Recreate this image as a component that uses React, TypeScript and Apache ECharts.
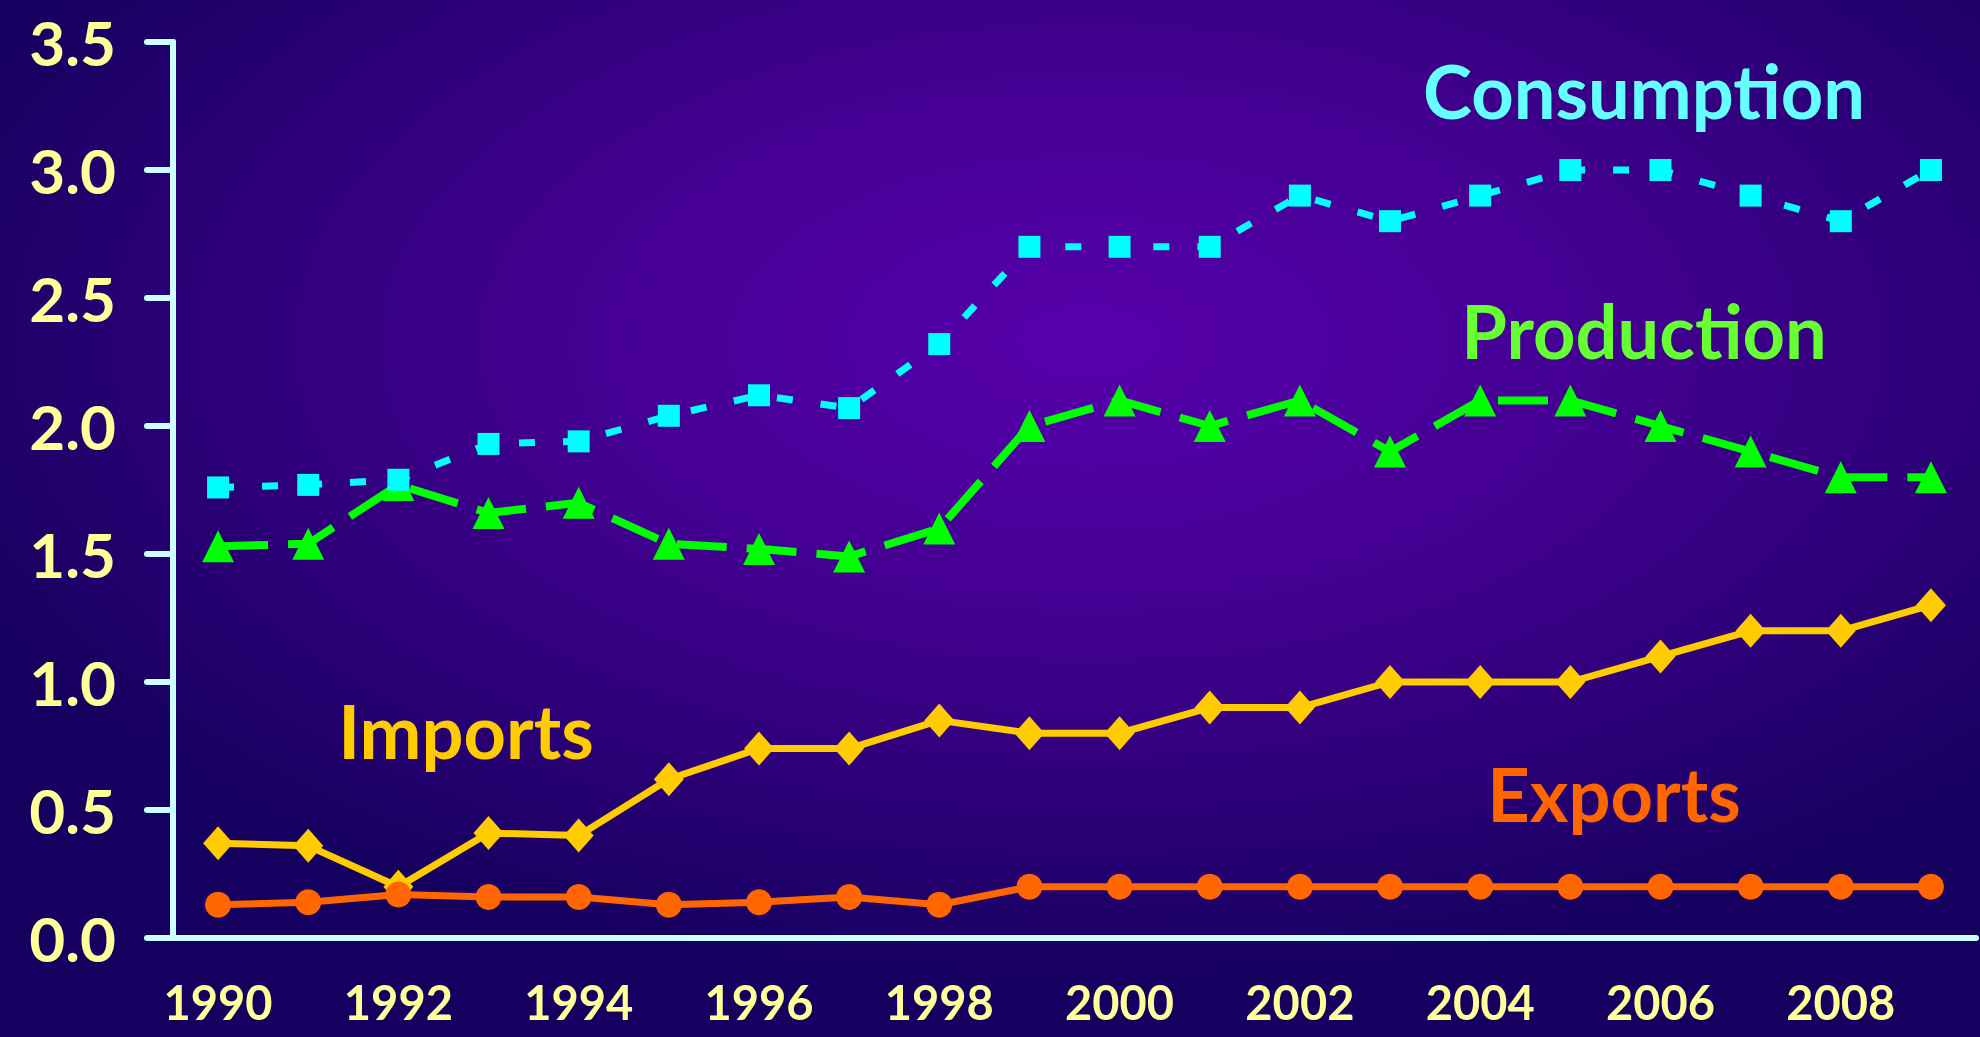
import React, { useEffect, useRef } from "react";
import * as echarts from "echarts";

const years = [
  "1990", "1991", "1992", "1993", "1994", "1995", "1996", "1997", "1998", "1999",
  "2000", "2001", "2002", "2003", "2004", "2005", "2006", "2007", "2008", "2009",
];
const consumption = [1.76, 1.77, 1.79, 1.93, 1.94, 2.04, 2.12, 2.07, 2.32, 2.7, 2.7, 2.7, 2.9, 2.8, 2.9, 3.0, 3.0, 2.9, 2.8, 3.0];
const production = [1.53, 1.54, 1.77, 1.66, 1.7, 1.54, 1.52, 1.49, 1.6, 2.0, 2.1, 2.0, 2.1, 1.9, 2.1, 2.1, 2.0, 1.9, 1.8, 1.8];
const imports = [0.37, 0.36, 0.2, 0.41, 0.4, 0.62, 0.74, 0.74, 0.85, 0.8, 0.8, 0.9, 0.9, 1.0, 1.0, 1.0, 1.1, 1.2, 1.2, 1.3];
const exports = [0.13, 0.14, 0.17, 0.16, 0.16, 0.13, 0.14, 0.16, 0.13, 0.2, 0.2, 0.2, 0.2, 0.2, 0.2, 0.2, 0.2, 0.2, 0.2, 0.2];

const seriesLabels = ["Consumption", "Production", "Imports", "Exports"];

export default function App() {
  const ref = useRef<HTMLDivElement>(null);
  useEffect(() => {
    const chart = echarts.init(ref.current!, null, { renderer: "svg" });
    const axisColor = "#CCFFFF";
    const labelColor = "#FFFF99";
    const font = "Lato";
    chart.setOption({
      animation: false,
      backgroundColor: {
        type: "radial",
        x: 0.55,
        y: 0.33,
        r: 0.62,
        colorStops: [
          { offset: 0, color: "#5700AD" },
          { offset: 0.45, color: "#42008F" },
          { offset: 1, color: "#16005F" },
        ],
      },
      grid: { left: 173, right: 4, top: 42, bottom: 99, containLabel: false },
      xAxis: {
        type: "category",
        data: years,
        boundaryGap: true,
        axisLine: { lineStyle: { color: axisColor, width: 6 } },
        axisTick: { interval: 0, length: 17, lineStyle: { color: axisColor, width: 5, cap: "round" } },
        axisLabel: {
          interval: 1,
          color: labelColor,
          fontFamily: font,
          fontWeight: "bold",
          fontSize: 47,
          lineHeight: 40,
          margin: 44,
        },
        splitLine: { show: false },
      },
      yAxis: {
        type: "value",
        min: 0,
        max: 3.5,
        interval: 0.5,
        axisLine: { show: true, lineStyle: { color: axisColor, width: 6 } },
        axisTick: { show: true, length: 26, lineStyle: { color: axisColor, width: 6, cap: "round" } },
        axisLabel: {
          color: labelColor,
          fontFamily: font,
          fontWeight: "bold",
          fontSize: 62,
          margin: 57,
          formatter: (v: number) => v.toFixed(1),
        },
        splitLine: { show: false },
      },
      series: [
        {
          name: seriesLabels[2],
          type: "line",
          data: imports,
          symbol: "diamond",
          symbolSize: [30, 34],
          lineStyle: { color: "#FFCC00", width: 7 },
          itemStyle: { color: "#FFCC00" },
        },
        {
          name: seriesLabels[3],
          type: "line",
          data: exports,
          symbol: "circle",
          symbolSize: 26,
          lineStyle: { color: "#FF6600", width: 7 },
          itemStyle: { color: "#FF6600" },
        },
        {
          name: seriesLabels[1],
          type: "line",
          data: production,
          symbol: "triangle",
          symbolSize: 32,
          lineStyle: { color: "#00FF00", width: 8, type: [50, 20] },
          itemStyle: { color: "#00FF00" },
        },
        {
          name: seriesLabels[0],
          type: "line",
          data: consumption,
          symbol: "rect",
          symbolSize: 22,
          lineStyle: { color: "#00FFFF", width: 7, type: [16, 28] },
          itemStyle: { color: "#00FFFF" },
        },
      ],
      graphic: [
        {
          type: "text",
          x: 1644,
          y: 90,
          style: { text: seriesLabels[0], fill: "#66FFFF", font: `bold 74px ${font}`, textAlign: "center", textVerticalAlign: "middle" },
        },
        {
          type: "text",
          x: 1644,
          y: 330,
          style: { text: seriesLabels[1], fill: "#66FF33", font: `bold 74px ${font}`, textAlign: "center", textVerticalAlign: "middle" },
        },
        {
          type: "text",
          x: 466,
          y: 730,
          style: { text: seriesLabels[2], fill: "#FFCC00", font: `bold 74px ${font}`, textAlign: "center", textVerticalAlign: "middle" },
        },
        {
          type: "text",
          x: 1614,
          y: 793,
          style: { text: seriesLabels[3], fill: "#FF6600", font: `bold 74px ${font}`, textAlign: "center", textVerticalAlign: "middle" },
        },
      ],
    });
    return () => chart.dispose();
  }, []);
  return (
    <div
      ref={ref}
      style={{ position: "fixed", left: 0, top: 0, width: 1980, height: 1037 }}
    />
  );
}
